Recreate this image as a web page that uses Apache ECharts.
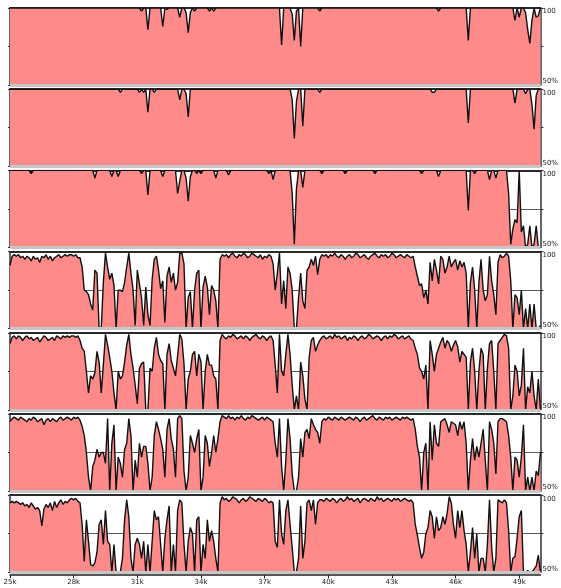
<!DOCTYPE html>
<html>
<head>
<meta charset="utf-8">
<script src="https://cdn.jsdelivr.net/npm/echarts@6/dist/echarts.min.js"></script>
<style>
html,body{margin:0;padding:0;background:#fff;}
#chart{width:561px;height:588px;}
</style>
</head>
<body>
<div id="chart"></div>
<script>
// Sampled positions: 25k .. 50k, one value every 100 bp
const X_START = 25000;
const X_STEP = 100;
const X_END = 50000;

const xTickValues = [25000, 28000, 31000, 34000, 37000, 40000, 43000, 46000, 49000];
const xTickLabels = ['25k', '28k', '31k', '34k', '37k', '40k', '43k', '46k', '49k'];
const yTopLabel = '100';
const yBottomLabel = '50%';

// Track 1 (top)
const track1 = [
100,100,100,100,100,100,100,100,100,100,
100,100,100,100,100,100,100,100,100,100,
100,100,100,100,100,100,100,100,100,100,
100,100,100,100,100,100,100,100,100,100,
100,100,100,100,100,100,100,100,100,100,
100,100,100,100,100,100,100,100,100,100,
100,100,98,100,100,86,100,100,100,100,
100,100,88,100,99,100,100,100,100,100,
94,100,100,97,84,97,100,98,100,100,
100,100,100,100,98,100,98,100,100,100,
100,100,100,100,100,100,100,100,100,100,
100,100,100,100,100,100,100,100,100,100,
100,100,100,100,100,100,100,100,76,100,
100,100,100,96,79,98,100,75,100,100,
100,100,100,100,100,100,98,100,100,100,
100,100,100,100,100,100,100,100,100,100,
100,100,100,100,100,100,100,100,100,100,
100,100,100,100,100,100,100,100,100,100,
100,100,100,100,100,100,100,100,100,100,
100,100,100,100,100,100,100,100,100,100,
100,100,98,100,100,100,100,100,100,100,
100,100,100,100,100,100,79,100,100,100,
100,100,100,100,100,100,100,100,100,100,
100,100,100,100,100,100,100,100,92,100,
94,100,100,97,86,77,92,100,94,95,
100
];

// Track 2
const track2 = [
100,100,100,100,100,100,100,100,100,100,
100,100,100,100,100,100,100,100,100,100,
100,100,100,100,100,100,100,100,100,100,
100,100,100,100,100,100,100,100,100,100,
100,100,100,100,100,100,100,100,100,100,
100,100,98,100,100,100,100,100,100,100,
100,98,100,98,100,85,100,100,98,100,
100,100,100,100,100,100,100,100,100,100,
93,100,100,97,82,100,100,100,100,100,
100,100,100,100,100,100,100,100,100,100,
100,100,100,100,100,100,100,100,100,100,
100,100,100,100,100,100,100,100,100,100,
100,100,100,100,100,100,100,100,100,100,
100,100,100,93,68,92,100,100,76,100,
100,100,100,100,100,100,98,100,100,100,
100,100,100,100,100,100,100,100,100,100,
100,100,100,100,100,100,100,100,100,100,
100,100,100,100,100,100,100,100,100,100,
100,100,100,100,100,100,100,100,100,100,
100,100,100,100,100,100,100,100,100,98,
98,100,100,100,100,100,100,100,100,100,
100,100,100,100,100,100,78,100,100,100,
100,100,100,100,100,100,100,100,100,100,
100,100,100,100,100,100,100,100,91,100,
100,100,100,97,100,100,90,74,96,100,
100
];

// Track 3
const track3 = [
100,100,100,100,100,100,100,100,100,100,
98,100,100,100,100,100,100,100,100,100,
100,100,100,100,100,100,100,100,100,100,
100,100,100,100,100,100,100,100,100,100,
95,100,100,100,100,100,100,100,96,100,
100,96,100,100,100,100,100,100,100,100,
100,100,98,100,100,84,100,100,100,100,
100,100,96,100,100,100,100,100,100,85,
93,100,100,95,80,96,100,100,98,100,
98,100,100,100,100,100,100,95,100,100,
100,100,100,97,100,100,100,100,100,100,
100,100,100,100,100,100,100,100,100,100,
100,100,98,100,94,100,100,100,100,100,
100,100,100,85,52,88,100,100,89,100,
100,100,100,100,100,100,100,98,100,100,
100,100,100,100,100,100,100,100,98,100,
100,100,100,100,100,100,100,100,100,100,
100,100,98,100,100,100,100,100,100,100,
100,100,100,100,100,100,100,100,100,100,
100,100,100,100,98,100,100,100,100,100,
100,100,96,100,100,100,100,100,100,100,
100,100,100,100,100,100,74,100,100,98,
100,100,100,100,100,100,94,100,100,95,
100,100,100,100,100,85,52,62,68,66,
100,60,64,50,52,64,50,52,64,50,
50
];

// Track 4
const track4 = [
91,97,98,97,98,96,97,95,97,96,
94,97,95,96,93,97,96,98,95,97,
94,96,97,98,96,97,98,97,98,98,
97,98,96,96,90,75,74,72,66,62,
88,86,50,50,80,99,90,82,86,78,
50,75,75,74,80,90,99,86,75,52,
88,79,70,52,77,59,52,82,95,97,
88,76,81,54,84,90,80,86,75,80,
99,99,92,50,70,74,50,75,86,88,
50,77,84,77,59,78,75,68,50,95,
98,97,98,96,98,99,97,96,98,97,
99,98,96,97,99,98,97,96,98,95,
97,96,98,97,92,75,86,99,66,81,
63,90,86,75,50,50,70,86,68,63,
88,90,95,91,97,85,95,98,97,98,
96,98,97,99,97,96,98,97,95,97,
98,96,97,99,98,96,97,98,96,95,
97,98,99,97,96,98,97,98,96,97,
99,98,96,97,98,97,96,98,97,96,
97,90,84,78,79,70,75,66,93,81,
95,88,79,97,95,86,90,97,90,93,
95,88,94,90,93,86,50,80,90,75,
50,80,95,75,68,72,97,81,72,59,
93,98,96,97,99,97,81,50,72,70,
59,75,50,63,50,66,50,66,50,50,
52
];

// Track 5
const track5 = [
93,97,98,96,98,97,95,97,98,96,
97,95,96,97,94,96,98,97,95,96,
97,95,98,97,96,98,97,98,97,98,
98,97,98,95,90,88,75,61,72,70,
74,88,81,61,79,99,92,84,75,61,
50,75,70,72,81,92,99,86,77,66,
54,77,80,81,50,50,77,75,90,97,
86,82,80,50,86,93,82,77,72,85,
99,96,80,50,70,75,86,88,72,86,
81,50,75,86,79,79,72,70,50,95,
99,97,96,98,97,99,98,96,97,98,
96,98,97,95,97,98,99,97,96,98,
97,95,97,98,95,79,61,99,75,72,
86,99,86,66,50,59,50,81,72,57,
50,84,95,97,88,92,95,97,98,96,
97,98,96,99,97,98,96,97,98,95,
97,96,98,97,95,97,98,96,97,99,
98,96,97,98,97,95,97,98,96,98,
97,99,98,96,97,98,96,97,98,96,
95,90,86,77,75,70,79,50,95,86,
75,86,90,94,97,90,95,93,88,92,
95,91,81,88,86,84,50,81,90,75,
50,75,90,86,50,77,93,95,75,50,
93,95,97,99,98,90,50,59,79,75,
59,66,90,50,65,61,75,59,50,70,
50
];

// Track 6
const track6 = [
95,97,98,97,96,98,97,96,95,97,
96,98,97,95,96,97,93,96,97,95,
97,96,95,97,98,96,97,98,97,96,
98,97,98,96,92,86,75,59,50,66,
70,77,72,75,75,68,97,50,81,93,
50,72,68,59,77,81,97,86,50,70,
59,81,72,79,79,68,50,59,86,95,
90,84,77,59,90,97,84,77,59,97,
99,97,63,50,59,86,81,75,84,90,
50,59,86,81,66,75,86,75,84,95,
99,98,97,99,97,98,96,98,97,99,
97,96,98,97,99,98,97,96,97,98,
96,98,97,96,95,81,72,97,66,50,
70,97,84,61,50,50,59,84,72,88,
90,84,97,93,90,88,81,95,97,96,
98,97,96,98,97,96,98,97,96,97,
98,97,96,98,97,95,97,98,96,97,
98,99,97,96,98,97,96,98,97,98,
96,97,98,97,96,98,97,98,97,96,
97,90,79,72,50,75,81,50,95,70,
93,81,79,95,96,97,93,88,95,94,
93,86,95,90,95,81,50,70,84,70,
79,72,81,90,70,50,95,90,81,61,
95,97,97,96,95,86,72,50,72,70,
59,72,93,50,59,50,59,50,63,60,
75
];

// Track 7 (bottom)
const track7 = [
95,96,95,96,95,94,95,93,94,92,
95,93,91,92,90,80,91,94,92,95,
90,96,92,95,97,94,96,95,97,98,
97,98,96,95,81,57,84,70,55,54,
56,63,81,84,68,90,70,68,50,68,
50,50,50,59,84,97,86,59,50,68,
72,68,59,70,50,68,50,70,90,84,
86,68,50,72,84,93,50,68,50,90,
97,95,68,50,70,79,75,50,84,86,
50,68,59,84,70,77,70,59,50,95,
99,97,98,96,97,99,98,97,95,97,
98,96,97,99,98,97,96,98,97,96,
98,97,95,96,95,70,66,97,75,68,
90,97,81,66,50,50,59,93,59,70,
95,97,90,97,81,95,97,97,96,98,
97,96,98,97,95,97,98,96,97,99,
97,98,96,97,98,95,97,98,97,96,
98,97,96,99,97,98,96,97,98,97,
96,98,97,98,96,97,98,97,96,97,
95,81,74,66,59,63,75,79,90,86,
72,86,77,79,86,81,88,99,95,81,
72,90,79,90,77,68,50,63,79,59,
75,50,59,59,50,68,97,66,50,59,
97,96,95,97,95,77,50,59,60,72,
86,90,50,50,51,50,50,52,54,61,
50
];

const tracks = [track1, track2, track3, track4, track5, track6, track7];

const chart = echarts.init(document.getElementById('chart'), null, {renderer: 'canvas'});

const PANEL_TOP = 8;
const PANEL_STEP = 81.2;
const PANEL_H = 77;
const FONT = 'DejaVu Sans';
const last = tracks.length - 1;

const grid = [], xAxis = [], yAxis = [], series = [];

tracks.forEach((vals, i) => {
  grid.push({left: 10, right: 18, top: PANEL_TOP + PANEL_STEP * i, height: PANEL_H});

  // bottom axis (data axis)
  xAxis.push({
    type: 'value', gridIndex: i, min: X_START, max: X_END, position: 'bottom',
    show: i === last, offset: 3,
    axisLine: {show: true, lineStyle: {color: '#222', width: 1.5}},
    axisTick: {show: true, customValues: xTickValues, length: 3, lineStyle: {color: '#222'}},
    axisLabel: {
      show: true, customValues: xTickValues, fontSize: 7, color: '#222', margin: 3, fontFamily: FONT,
      formatter: v => { const k = xTickValues.indexOf(v); return k >= 0 ? xTickLabels[k] : ''; }
    },
    splitLine: {show: false}
  });
  // top border line
  xAxis.push({
    type: 'value', gridIndex: i, min: X_START, max: X_END, position: 'top',
    axisLine: {show: true, lineStyle: {color: '#2a2a2a', width: 2}},
    axisTick: {show: false}, axisLabel: {show: false}, splitLine: {show: false}
  });

  yAxis.push({
    type: 'value', gridIndex: i, min: 50, max: 100, interval: 25, position: 'left',
    axisLine: {show: true, lineStyle: {color: '#333', width: 1.5}},
    axisTick: {show: true, length: 2, lineStyle: {color: '#333'}},
    axisLabel: {show: false},
    splitLine: {show: true, lineStyle: {color: ['rgba(0,0,0,0)', '#5a5a5a', 'rgba(0,0,0,0)'], width: 1}}
  });
  yAxis.push({
    type: 'value', gridIndex: i, min: 50, max: 100, position: 'right',
    axisLine: {show: true, lineStyle: {color: '#333', width: 1.5}},
    axisTick: {show: true, customValues: [75, 100], length: 3, lineStyle: {color: '#333'}},
    axisLabel: {show: true, customValues: [100], formatter: () => yTopLabel, verticalAlign: 'top',
      fontSize: 7, color: '#222', margin: 2, fontFamily: FONT},
    splitLine: {show: false}
  });
  yAxis.push({
    type: 'value', gridIndex: i, min: 50, max: 100, position: 'right',
    axisLine: {show: false}, axisTick: {show: false},
    axisLabel: {show: true, customValues: [50], formatter: () => yBottomLabel, verticalAlign: 'bottom',
      fontSize: 7, color: '#222', margin: 2, fontFamily: FONT},
    splitLine: {show: false}
  });

  series.push({
    type: 'line', xAxisIndex: 2 * i, yAxisIndex: 3 * i,
    data: vals.map((v, k) => [X_START + k * X_STEP, v]),
    symbol: 'none', showSymbol: false,
    lineStyle: {color: '#111', width: 1.4},
    areaStyle: {color: '#ff8a8a', opacity: 1, origin: 'start'},
    markLine: {
      silent: true, symbol: 'none', label: {show: false},
      lineStyle: {color: '#c6c6c6', width: 3, type: 'solid'},
      data: [{yAxis: 50}]
    }
  });
});

chart.setOption({animation: false, backgroundColor: '#fff', grid, xAxis, yAxis, series});
</script>
</body>
</html>
